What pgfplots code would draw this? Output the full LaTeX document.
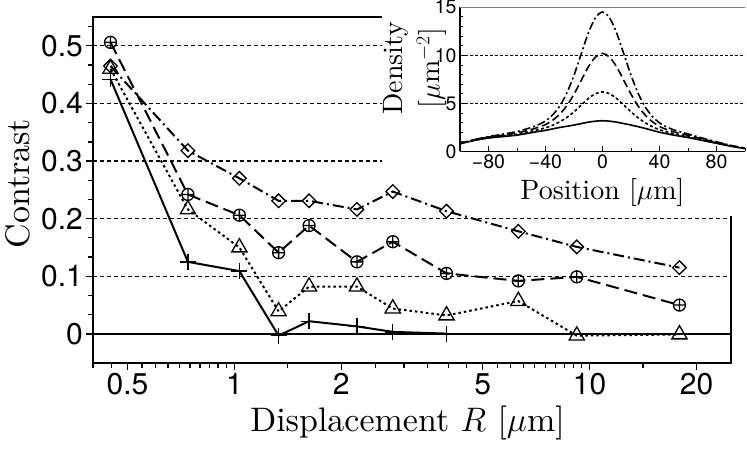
\RequirePackage{fix-cm}
\documentclass[border=0pt]{standalone}
\usepackage{fontspec}
\setmainfont{lmroman10-regular.otf}[BoldFont=lmroman10-bold.otf, ItalicFont=lmroman10-italic.otf]
\usepackage{pgfplots}
\usepackage{pgfplotstable}
\pgfplotsset{compat=1.18}
\newfontfamily\heros{TeX Gyre Heros}

\pgfplotstableread{
x s d a b
-100 0.80 0.81 0.83 0.85
-95 0.98 1.00 1.02 1.05
-90 1.15 1.17 1.21 1.24
-85 1.28 1.31 1.36 1.40
-80 1.40 1.44 1.50 1.56
-75 1.48 1.53 1.60 1.67
-70 1.55 1.62 1.70 1.80
-65 1.62 1.70 1.81 1.93
-60 1.70 1.80 1.93 2.07
-55 1.82 1.94 2.10 2.27
-50 1.95 2.10 2.29 2.50
-45 2.08 2.27 2.52 2.79
-40 2.20 2.46 2.80 3.17
-35 2.35 2.73 3.25 3.80
-30 2.50 3.09 3.88 4.73
-25 2.62 3.54 4.77 6.09
-20 2.75 4.12 5.96 7.93
-15 2.90 4.82 7.37 10.12
-10 3.05 5.50 8.78 12.29
-5 3.15 6.00 9.80 13.89
0 3.20 6.20 10.20 14.50
5 3.15 6.00 9.80 13.89
10 3.05 5.50 8.78 12.29
15 2.90 4.82 7.37 10.12
20 2.75 4.12 5.96 7.93
25 2.58 3.50 4.73 6.05
30 2.40 2.99 3.78 4.63
35 2.20 2.58 3.10 3.65
40 2.00 2.26 2.60 2.97
45 1.85 2.04 2.29 2.56
50 1.70 1.85 2.04 2.25
55 1.58 1.70 1.86 2.03
60 1.45 1.55 1.68 1.82
65 1.30 1.38 1.49 1.61
70 1.15 1.22 1.30 1.40
75 1.00 1.05 1.12 1.19
80 0.85 0.89 0.95 1.01
85 0.70 0.73 0.78 0.82
90 0.55 0.57 0.61 0.64
95 0.42 0.44 0.46 0.49
100 0.30 0.31 0.33 0.35
}\profile

\begin{document}
\begin{tikzpicture}
\begin{axis}[
  at={(0,0)}, anchor=south west,
  scale only axis, width=638bp, height=345.7bp,
  xmode=log, xmin=0.4, xmax=25, ymin=-0.05, ymax=0.55,
  xtick={0.5,1,2,5,10,20}, xticklabels={0.5,1,2,5,10,20},
  minor xtick={0.4,0.45,0.55,0.6,0.65,0.7,0.75,0.8,0.85,0.9,0.95,1.414,2.5,3,3.5,4,4.5,5.5,6,6.5,7,7.5,8,8.5,9,9.5,14.14},
  ytick={0.1,0.2,0.3,0.4,0.5}, yticklabels={0.1,0.2,0.3,0.4,0.5},
  extra y ticks={0}, extra y tick labels={0},
  extra y tick style={major grid style={solid, line width=2.5bp, black}},
  minor ytick={0.0333,0.0667,0.1333,0.1667,0.2333,0.2667,0.3333,0.3667,0.4333,0.4667,0.5333},
  tick align=outside, xtick pos=bottom, ytick pos=left,
  major tick length=7bp, minor tick length=5bp,
  every tick/.style={line width=1.3bp, black},
  ymajorgrids,
  major grid style={dash pattern=on 4bp off 3bp, line width=1.3bp, black},
  axis line style={line width=2bp},
  tick label style={font=\heros\fontsize{30bp}{32bp}\selectfont},
  yticklabel style={inner sep=3bp},
  label style={font=\fontsize{34bp}{40bp}\selectfont},
  xlabel={Displacement $R$ [$\mu$m]},
  ylabel={Contrast},
  xlabel style={at={(axis description cs:0.493,0)}, anchor=base, yshift=-68.3bp},
  ylabel style={at={(axis description cs:-0.118,0.518)}, anchor=center, inner sep=0pt},
  mark options={solid, line width=1.3bp},
]
\fill[white] (rel axis cs:0.453,0.4244) rectangle (rel axis cs:1.1,1.1);
\addplot[line width=2bp, mark=+, mark size=8bp] coordinates {
(0.448,0.442) (0.740,0.125) (1.033,0.109) (1.332,-0.003) (1.623,0.022) (2.213,0.013) (2.792,0.0035) (3.956,0.0005)};
\addplot[line width=2bp, dash pattern=on 2.5bp off 3bp, mark=triangle, mark size=8.8bp] coordinates {
(0.448,0.460) (0.740,0.216) (1.033,0.150) (1.332,0.039) (1.623,0.082) (2.213,0.082) (2.792,0.044) (3.956,0.032) (6.30,0.057) (9.20,-0.003) (17.9,-0.001)};
\addplot[line width=2bp, dash pattern=on 13bp off 6bp, mark=oplus, mark size=6bp] coordinates {
(0.448,0.506) (0.740,0.242) (1.033,0.206) (1.332,0.141) (1.623,0.188) (2.213,0.125) (2.792,0.160) (3.956,0.105) (6.30,0.092) (9.20,0.099) (17.9,0.050)};
\addplot[line width=2bp, dash pattern=on 11bp off 4bp on 2bp off 4bp, mark=square, mark options={solid, line width=1.3bp, rotate=45}, mark size=4.8bp] coordinates {
(0.448,0.465) (0.740,0.318) (1.033,0.270) (1.332,0.231) (1.623,0.231) (2.213,0.216) (2.792,0.247) (3.956,0.213) (6.30,0.178) (9.20,0.151) (17.9,0.115)};
\end{axis}

\fill[white] (289bp,341bp) rectangle (660bp,383bp);
\fill[white] (628bp,146.5bp) rectangle (660bp,383bp);

\begin{axis}[
  at={(367bp,211.2bp)}, anchor=south west,
  scale only axis, width=285bp, height=144.3bp,
  xmin=-100, xmax=100, ymin=0, ymax=15,
  axis x line*=bottom, axis y line*=left,
  xtick={-80,-40,0,40,80}, xticklabels={−80,−40,0,40,80},
  minor xtick={-100,-60,-20,20,60,100},
  ytick={0,5,10,15}, yticklabels={0,5,10,15}, minor y tick num=4,
  tick align=inside, major tick length=5bp, minor tick length=3bp,
  every tick/.style={line width=0.8bp, black},
  ymajorgrids,
  major grid style={dash pattern=on 3bp off 2bp, line width=0.8bp, black},
  axis line style={line width=1.5bp},
  tick label style={font=\heros\fontsize{19.5bp}{21bp}\selectfont},
  label style={font=\fontsize{28bp}{37bp}\selectfont, align=center},
  xlabel={Position [$\mu$m]},
  ylabel={Density\\{[}$\mu$m$^{-2}${]}},
  xlabel style={at={(axis description cs:0.5,0)}, anchor=base, yshift=-48.5bp},
  ylabel style={at={(axis description cs:-0.158,0.579)}, anchor=center},
]
\addplot[line width=1.6bp, smooth] table[x=x, y=s] {\profile};
\addplot[line width=1.6bp, smooth, dash pattern=on 3bp off 2.5bp] table[x=x, y=d] {\profile};
\addplot[line width=1.6bp, smooth, dash pattern=on 8bp off 4bp] table[x=x, y=a] {\profile};
\addplot[line width=1.6bp, smooth, dash pattern=on 8bp off 3bp on 2bp off 3bp] table[x=x, y=b] {\profile};
\draw[gray, line width=1bp] (rel axis cs:0,1) -- (rel axis cs:1,1);
\end{axis}

\pgfresetboundingbox
\useasboundingbox (-93bp,-87.3bp) rectangle (654bp,362.7bp);
\end{tikzpicture}
\end{document}
